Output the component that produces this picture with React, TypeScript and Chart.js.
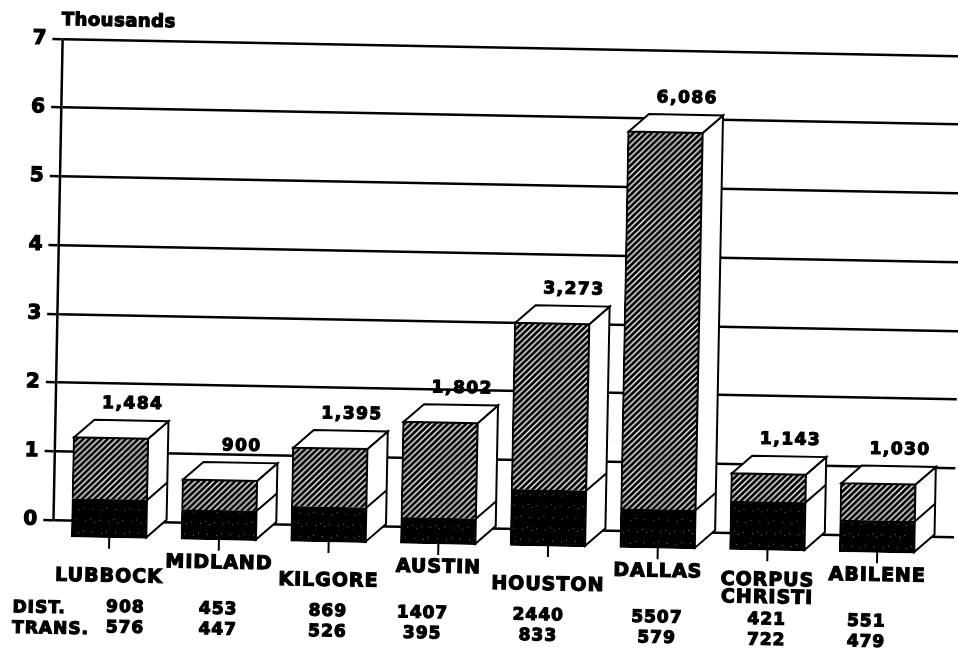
import React, { useEffect, useRef } from 'react';
import { Chart, registerables } from 'chart.js';

Chart.register(...registerables);

// ---------- data ----------
const categories: string[][] = [
  ['LUBBOCK'],
  ['MIDLAND'],
  ['KILGORE'],
  ['AUSTIN'],
  ['HOUSTON'],
  ['DALLAS'],
  ['CORPUS', 'CHRISTI'],
  ['ABILENE'],
];
const distValues = [908, 453, 869, 1407, 2440, 5507, 421, 551];
const transValues = [576, 447, 526, 395, 833, 579, 722, 479];
const yTicks = [0, 1, 2, 3, 4, 5, 6, 7];
const unitLabel = 'Thousands';
const rowLabels = ['DIST.', 'TRANS.'];

// ---------- layout ----------
const W = 958;
const H = 653;
const ROT = 0.019; // scan tilt (rad)
const DX = 20; // 3D depth offset
const DY = 18;
const FONT = '"DejaVu Sans", "Liberation Sans", Arial, sans-serif';
const INK = 1.2; // extra stroke to mimic the heavy printed type
// horizontal shift of the typed table columns relative to each bar (layout only)
const tableColumnShift = [17, 0, 0, -15, -9, 0, 0, -10];

function makeHatch(): CanvasPattern | string {
  const s = 6;
  const c = document.createElement('canvas');
  c.width = s;
  c.height = s;
  const g = c.getContext('2d');
  if (!g) return '#555';
  g.fillStyle = '#fff';
  g.fillRect(0, 0, s, s);
  g.strokeStyle = '#000';
  g.lineWidth = 2.9;
  g.beginPath();
  g.moveTo(-1, 1);
  g.lineTo(1, -1);
  g.moveTo(0, s);
  g.lineTo(s, 0);
  g.moveTo(s - 1, s + 1);
  g.lineTo(s + 1, s - 1);
  g.stroke();
  return g.createPattern(c, 'repeat') || '#555';
}

function makeSpeckle(): CanvasPattern | string {
  const s = 23;
  const c = document.createElement('canvas');
  c.width = s;
  c.height = s;
  const g = c.getContext('2d');
  if (!g) return '#000';
  g.fillStyle = '#000';
  g.fillRect(0, 0, s, s);
  g.fillStyle = 'rgba(255,255,255,0.45)';
  for (let k = 0; k < 7; k++) {
    const px = (k * 7 + 3) % s;
    const py = (k * 11 + 5) % s;
    g.fillRect(px, py, 1, 1);
  }
  return g.createPattern(c, 'repeat') || '#000';
}

function inkText(ctx: CanvasRenderingContext2D, s: string, x: number, y: number) {
  ctx.strokeText(s, x, y);
  ctx.fillText(s, x, y);
}

const scanPlugin = {
  id: 'scan3d',
  beforeDraw(chart: any) {
    const { ctx, width, height } = chart;
    ctx.save();
    ctx.fillStyle = '#fff';
    ctx.fillRect(0, 0, width, height);
    ctx.translate(width / 2, height / 2);
    ctx.rotate(ROT);
    ctx.translate(-width / 2, -height / 2);
  },
  beforeDatasetsDraw(chart: any) {
    chart.ctx.save();
    chart.ctx.translate(-DX, DY);
  },
  afterDatasetsDraw(chart: any) {
    const ctx: CanvasRenderingContext2D = chart.ctx;
    ctx.restore();
    const botEls = chart.getDatasetMeta(0).data;
    const topEls = chart.getDatasetMeta(1).data;
    const area = chart.chartArea;

    ctx.save();
    ctx.lineJoin = 'miter';

    for (let i = 0; i < categories.length; i++) {
      const t = topEls[i].getProps(['x', 'y', 'base', 'width'], true);
      const b = botEls[i].getProps(['x', 'y', 'base', 'width'], true);
      const xf = t.x - DX;
      const half = t.width / 2;
      const xl = xf - half + 1;
      const xr = xf + half - 1;
      const topF = t.y + DY + 1;
      const midF = b.y + DY;
      const botF = b.base + DY - 1;

      ctx.lineWidth = 2;
      ctx.strokeStyle = '#000';
      ctx.fillStyle = '#fff';
      // side face
      ctx.beginPath();
      ctx.moveTo(xr, topF);
      ctx.lineTo(xr + DX, topF - DY);
      ctx.lineTo(xr + DX, botF - DY);
      ctx.lineTo(xr, botF);
      ctx.closePath();
      ctx.fill();
      ctx.stroke();
      ctx.beginPath();
      ctx.moveTo(xr, midF);
      ctx.lineTo(xr + DX, midF - DY);
      ctx.stroke();

      // top face
      ctx.beginPath();
      ctx.moveTo(xl, topF);
      ctx.lineTo(xl + DX, topF - DY);
      ctx.lineTo(xr + DX, topF - DY);
      ctx.lineTo(xr, topF);
      ctx.closePath();
      ctx.fill();
      ctx.stroke();

      // category tick
      ctx.beginPath();
      ctx.moveTo(xf, botF);
      ctx.lineTo(xf, botF + 12);
      ctx.stroke();

      // text
      ctx.fillStyle = '#000';
      ctx.lineWidth = INK;
      ctx.textAlign = 'center';
      ctx.textBaseline = 'alphabetic';

      const total = distValues[i] + transValues[i];
      ctx.font = `bold 17px ${FONT}`;
      (ctx as any).letterSpacing = '1.5px';
      inkText(ctx, total.toLocaleString('en-US'), t.x + 1, t.y - 11);

      const lines = categories[i];
      const centerY = botF + (i % 2 === 0 ? 38 : 22.5);
      const lh = 17.5;
      ctx.font = `bold 19px ${FONT}`;
      (ctx as any).letterSpacing = '1px';
      lines.forEach((ln, k) => {
        const cy = centerY + (k - (lines.length - 1) / 2) * lh;
        inkText(ctx, ln, xf + 0.5, cy + 7);
      });

      ctx.font = `bold 17px ${FONT}`;
      (ctx as any).letterSpacing = '1px';
      const tx = xf + 0.5 + tableColumnShift[i];
      inkText(ctx, String(distValues[i]), tx, botF + 68.5 + 6.5);
      inkText(ctx, String(transValues[i]), tx, botF + 89 + 6.5);
    }

    // row labels
    const base = area.bottom + DY;
    ctx.fillStyle = '#000';
    ctx.lineWidth = INK;
    ctx.textAlign = 'left';
    ctx.font = `bold 17px ${FONT}`;
    (ctx as any).letterSpacing = '1px';
    inkText(ctx, rowLabels[0], 18, base + 68.5 + 6.5);
    inkText(ctx, rowLabels[1], 18, base + 89 + 6.5);

    // unit title
    ctx.font = `bold 18px ${FONT}`;
    (ctx as any).letterSpacing = '0.5px';
    inkText(ctx, unitLabel, area.left - 1, area.top - 14);
    ctx.restore();
  },
  afterDraw(chart: any) {
    chart.ctx.restore();
  },
};

export default function App() {
  const ref = useRef<HTMLCanvasElement | null>(null);

  useEffect(() => {
    if (!ref.current) return;
    const hatch = makeHatch();
    const speckle = makeSpeckle();
    const chart = new Chart(ref.current, {
      type: 'bar',
      data: {
        datasets: [
          {
            label: 'TRANS.',
            data: transValues.map((v, i) => ({ x: i, y: v / 1000 })),
            backgroundColor: speckle as any,
            borderColor: '#000',
            borderWidth: 2,
            borderSkipped: false,
            barThickness: 76,
          },
          {
            label: 'DIST.',
            data: distValues.map((v, i) => ({ x: i, y: v / 1000 })),
            backgroundColor: hatch as any,
            borderColor: '#000',
            borderWidth: 2,
            borderSkipped: 'start',
            barThickness: 76,
          },
        ],
      },
      options: {
        responsive: false,
        animation: false,
        events: [],
        layout: { padding: { top: 47, bottom: H - 528, left: 0, right: -8 } },
        plugins: {
          legend: { display: false },
          tooltip: { enabled: false },
          title: { display: false },
        },
        datasets: { bar: { clip: false as any } },
        scales: {
          x: {
            type: 'linear',
            stacked: true,
            offset: false,
            min: -0.6956,
            max: 7.5158,
            display: false,
          },
          y: {
            stacked: true,
            min: 0,
            max: 7,
            afterFit: (scale: any) => {
              scale.width = 57;
            },
            afterBuildTicks: (scale: any) => {
              scale.ticks = yTicks.map((v) => ({ value: v }));
            },
            ticks: {
              color: '#000',
              padding: 6,
              font: { family: FONT, size: 20, weight: 'bold' },
              textStrokeColor: '#000',
              textStrokeWidth: INK,
            },
            grid: {
              color: '#000',
              lineWidth: 2.5,
              tickLength: 10,
              drawTicks: true,
            },
            border: { display: true, color: '#000', width: 2.5 },
          },
        },
      },
      plugins: [scanPlugin],
    } as any);
    return () => chart.destroy();
  }, []);

  return (
    <div style={{ position: 'fixed', left: 0, top: 0, width: W, height: H, background: '#fff' }}>
      <canvas ref={ref} width={W} height={H} style={{ width: W, height: H, display: 'block' }} />
    </div>
  );
}
